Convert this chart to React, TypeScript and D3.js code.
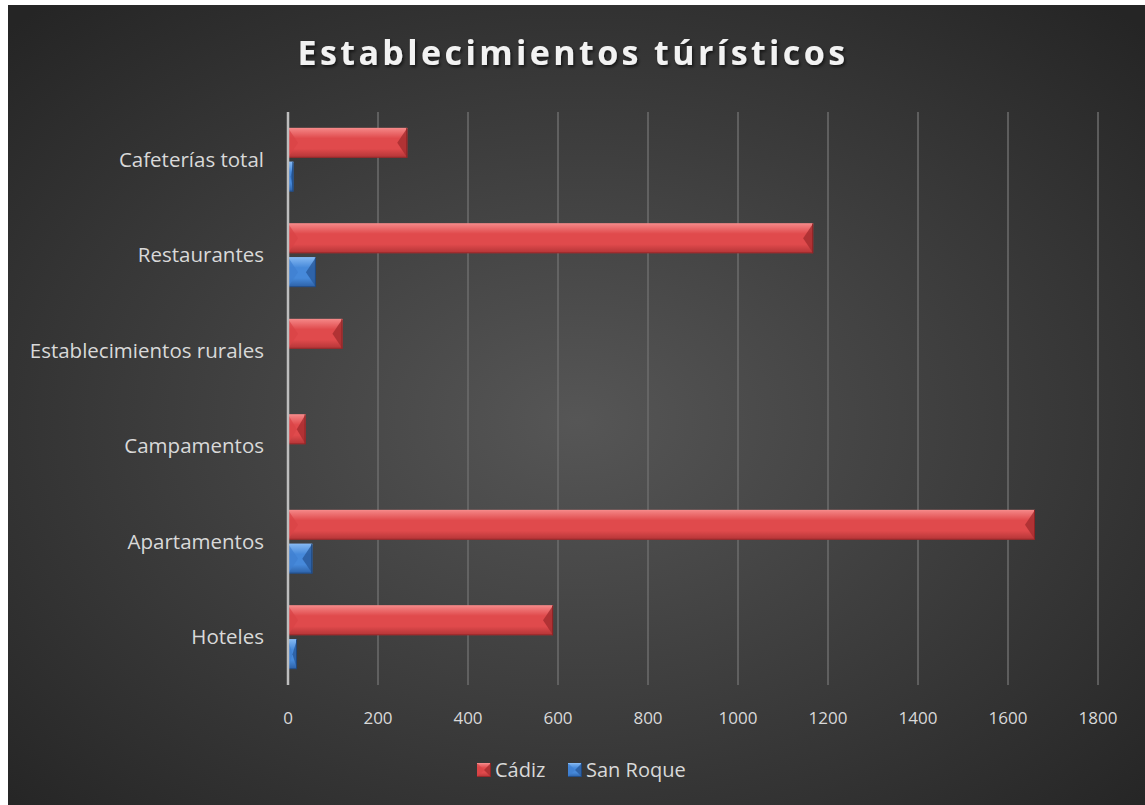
import React from 'react';
import * as d3 from 'd3';

const categories = ['Hoteles', 'Apartamentos', 'Campamentos', 'Establecimientos rurales', 'Restaurantes', 'Cafeterías total'];
const cadiz = [589, 1660, 39, 121, 1167, 265];
const sanRoque = [20, 54, 0, 0, 62, 12];
const xTicks = [0, 200, 400, 600, 800, 1000, 1200, 1400, 1600, 1800];

// page coordinates; the svg sits at (8,5) and everything is shifted back inside it
const W = 1137;
const H = 800;
const left = 288;
const right = 1098;
const top = 112;
const bottom = 685;

const font = "'Open Sans', 'Noto Sans', sans-serif";

const palette = {
  red: { top: '#f58888', mid: '#e04a4c', bot: '#b23436', edge: '#8e2426', side: '#d94346', sideDark: '#a52c2e' },
  blue: { top: '#84b8f2', mid: '#4689da', bot: '#2c60a6', edge: '#1f477d', side: '#3e7fd0', sideDark: '#285a9c' },
};

type Pal = typeof palette.red;

const BevelBar = ({ x0, x1, y0, y1, p, id }: { x0: number; x1: number; y0: number; y1: number; p: Pal; id: string }) => {
  const w = x1 - x0;
  if (w <= 0.5) return null;
  const h = y1 - y0;
  const ym = y0 + h / 2;
  const b = Math.min(10, w / 2, h / 2);
  return (
    <g>
      <rect x={x0} y={y0} width={w} height={h} fill={`url(#${id})`} />
      <polygon points={`${x0},${y0} ${x0 + b},${ym} ${x0},${y1}`} fill={p.side} opacity={0.7} />
      <polygon points={`${x1},${y0} ${x1 - b},${ym} ${x1},${y1}`} fill={p.sideDark} opacity={0.8} />
      <line x1={x0} x2={x1} y1={y0 + 0.5} y2={y0 + 0.5} stroke={p.top} strokeWidth={1} />
      <line x1={x1 - 0.5} x2={x1 - 0.5} y1={y0} y2={y1} stroke={p.edge} strokeWidth={1} />
      <line x1={x0} x2={x1} y1={y1 - 0.5} y2={y1 - 0.5} stroke={p.edge} strokeWidth={1} opacity={0.7} />
    </g>
  );
};

export default function App() {
  const x = d3.scaleLinear().domain([0, 1800]).range([left, right]);
  const y = d3.scaleBand<string>().domain([...categories].reverse()).range([top, bottom]);
  const inner = d3.scaleBand<string>().domain(['cadiz', 'sanRoque']).range([0, y.bandwidth()]).paddingInner(0.118).paddingOuter(0.47);

  const grad = (id: string, p: Pal) => (
    <linearGradient id={id} x1="0" y1="0" x2="0" y2="1">
      <stop offset="0" stopColor={p.top} />
      <stop offset="0.35" stopColor={p.mid} />
      <stop offset="0.7" stopColor={p.mid} />
      <stop offset="1" stopColor={p.bot} />
    </linearGradient>
  );

  return (
    <svg width={W} height={H} style={{ position: 'absolute', left: 8, top: 5 }}>
      <defs>
        <radialGradient id="bg" cx="50%" cy="52%" r="70%">
          <stop offset="0" stopColor="#565656" />
          <stop offset="1" stopColor="#252525" />
        </radialGradient>
        {grad('gRed', palette.red)}
        {grad('gBlue', palette.blue)}
        <filter id="shadow" x="-5%" y="-20%" width="110%" height="150%">
          <feDropShadow dx="1.5" dy="2" stdDeviation="1.5" floodColor="#000" floodOpacity="0.6" />
        </filter>
      </defs>
      <rect width={W} height={H} fill="url(#bg)" />

      <g transform="translate(-8,-5)">
        <text x={573} y={65} textAnchor="middle" fill="#f2f2f2" fontFamily={font} fontWeight={700} fontSize={34} letterSpacing={3.4} filter="url(#shadow)">
          Establecimientos túrísticos
        </text>

        {xTicks.map(t => (
          <g key={t}>
            {t > 0 && <line x1={x(t)} x2={x(t)} y1={top} y2={bottom} stroke="#6c6c6c" strokeWidth={1.5} />}
            <text x={x(t)} y={724} textAnchor="middle" fill="#d9d9d9" fontFamily={font} fontSize={17}>{t}</text>
          </g>
        ))}

        {categories.map((c, i) => {
          const by = y(c) as number;
          const yc = by + (inner('cadiz') as number);
          const ys = by + (inner('sanRoque') as number);
          const bw = inner.bandwidth();
          return (
            <g key={c}>
              <text x={264} y={by + y.bandwidth() / 2 + 7} textAnchor="end" fill="#d9d9d9" fontFamily={font} fontSize={20.5}>{c}</text>
              <BevelBar x0={x(0)} x1={x(cadiz[i])} y0={yc} y1={yc + bw} p={palette.red} id="gRed" />
              <BevelBar x0={x(0)} x1={x(sanRoque[i])} y0={ys} y1={ys + bw} p={palette.blue} id="gBlue" />
            </g>
          );
        })}

        <line x1={x(0)} x2={x(0)} y1={top} y2={bottom} stroke="#bdbdbd" strokeWidth={2.5} />

        <g>
          <BevelBar x0={477} x1={491} y0={763} y1={777} p={palette.red} id="gRed" />
          <text x={495} y={777} fill="#d9d9d9" fontFamily={font} fontSize={20}>Cádiz</text>
          <BevelBar x0={568} x1={582} y0={763} y1={777} p={palette.blue} id="gBlue" />
          <text x={586} y={777} fill="#d9d9d9" fontFamily={font} fontSize={20}>San Roque</text>
        </g>
      </g>
    </svg>
  );
}
